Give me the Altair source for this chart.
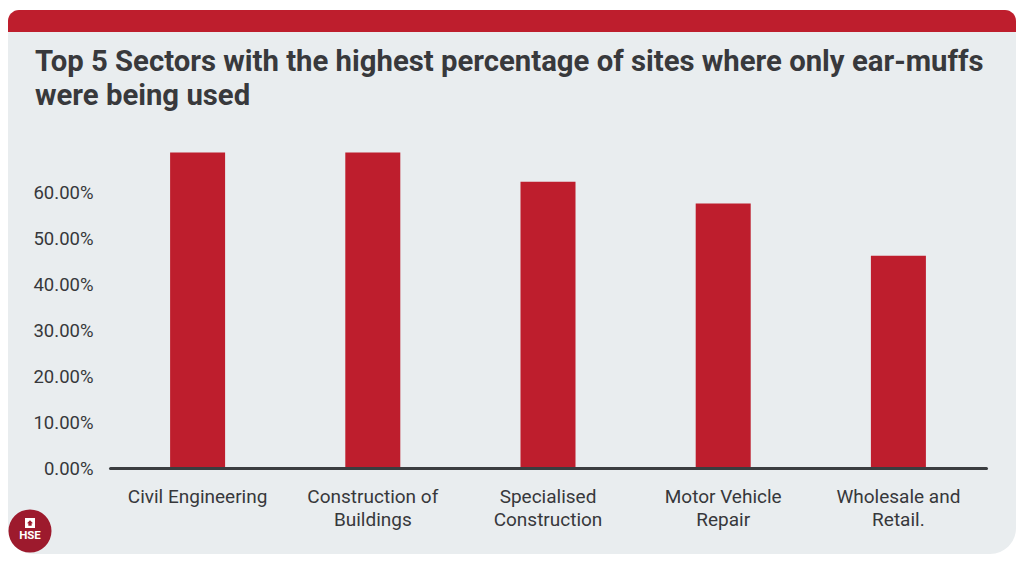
import textwrap
import altair as alt
import pandas as pd

# ---- data ----
sectors = [
    "Civil Engineering",
    "Construction of Buildings",
    "Specialised Construction",
    "Motor Vehicle Repair",
    "Wholesale and Retail.",
]
shares = [0.688, 0.688, 0.624, 0.577, 0.463]
y_ticks = [0.0, 0.1, 0.2, 0.3, 0.4, 0.5, 0.6]
title_lines = [
    "Top 5 Sectors with the highest percentage of sites where only ear-muffs",
    "were being used",
]
logo_text = "HSE"

labels = ["|".join(textwrap.wrap(s, 17)) for s in sectors]
df = pd.DataFrame({"sector": sectors, "label": labels, "share": shares})
one = pd.DataFrame({"k": [0]})

RED = "#be1e2d"
CARD = "#e9edef"
TEXT = "#37383b"
FONT = "Roboto"

card = alt.Chart(one).mark_rect(color=CARD, cornerRadius=26).encode(
    x=alt.value(-102), x2=alt.value(906), y=alt.value(-137), y2=alt.value(407)
)
band = alt.Chart(one).mark_rect(
    color=RED, cornerRadiusTopLeft=22, cornerRadiusTopRight=22
).encode(x=alt.value(-102), x2=alt.value(906), y=alt.value(-137), y2=alt.value(-115))

title = alt.Chart(one).mark_text(
    align="left", baseline="alphabetic", font=FONT, fontSize=29.3,
    fontWeight="bold", color="#38393c", lineHeight=34,
).encode(x=alt.value(-75), y=alt.value(-76), text=alt.value(title_lines))

bars = alt.Chart(df).mark_bar(color=RED, size=55).encode(
    x=alt.X(
        "label:N", sort=labels, title=None,
        scale=alt.Scale(paddingInner=0, paddingOuter=0),
        axis=alt.Axis(
            labelExpr="split(datum.label, '|')", labelAngle=0,
            labelFontSize=19, labelColor=TEXT, labelFont=FONT,
            labelPadding=19, labelLineHeight=23, labelBaseline="top",
            ticks=False, tickSize=0, domain=True, domainColor="#3b3d40",
            domainWidth=3, domainCap="round", grid=False, zindex=3,
        ),
    ),
    y=alt.Y(
        "share:Q", title=None,
        scale=alt.Scale(domain=[0, 0.7], nice=False, zero=True),
        axis=alt.Axis(
            values=y_ticks, format=".2%", labelFontSize=18.5,
            labelColor=TEXT, labelFont=FONT, labelPadding=17,
            ticks=False, tickSize=0, domain=False, grid=False, zindex=3,
        ),
    ),
)

logo_circle = alt.Chart(one).mark_point(
    shape="circle", filled=True, size=1850, color="#9d1a2d", opacity=1
).encode(x=alt.value(-80), y=alt.value(384))
logo_box = alt.Chart(one).mark_point(
    shape="square", filled=True, size=100, color="#ffffff", opacity=1
).encode(x=alt.value(-80), y=alt.value(376))
logo_house = alt.Chart(one).mark_point(
    shape="M-1,0.1L0,-0.9L1,0.1L0.55,0.1L0.55,0.9L-0.55,0.9L-0.55,0.1Z",
    filled=True, size=36, color="#9d1a2d", opacity=1,
).encode(x=alt.value(-80), y=alt.value(376))
logo_label = alt.Chart(one).mark_text(
    font=FONT, fontSize=11.5, fontWeight="bold", color="#ffffff",
    align="center", baseline="middle",
).encode(x=alt.value(-80), y=alt.value(389), text=alt.value(logo_text))

chart = alt.layer(
    card, band, title, bars, logo_circle, logo_box, logo_house, logo_label
).properties(
    width=876, height=321,
    autosize=alt.AutoSizeParams(type="none"),
    padding={"left": 102, "top": 139, "right": 30, "bottom": 86},
    background="#ffffff",
).configure_view(stroke=None).configure(font=FONT)

chart.save("out.html", embed_options={"renderer": "svg", "actions": False})
